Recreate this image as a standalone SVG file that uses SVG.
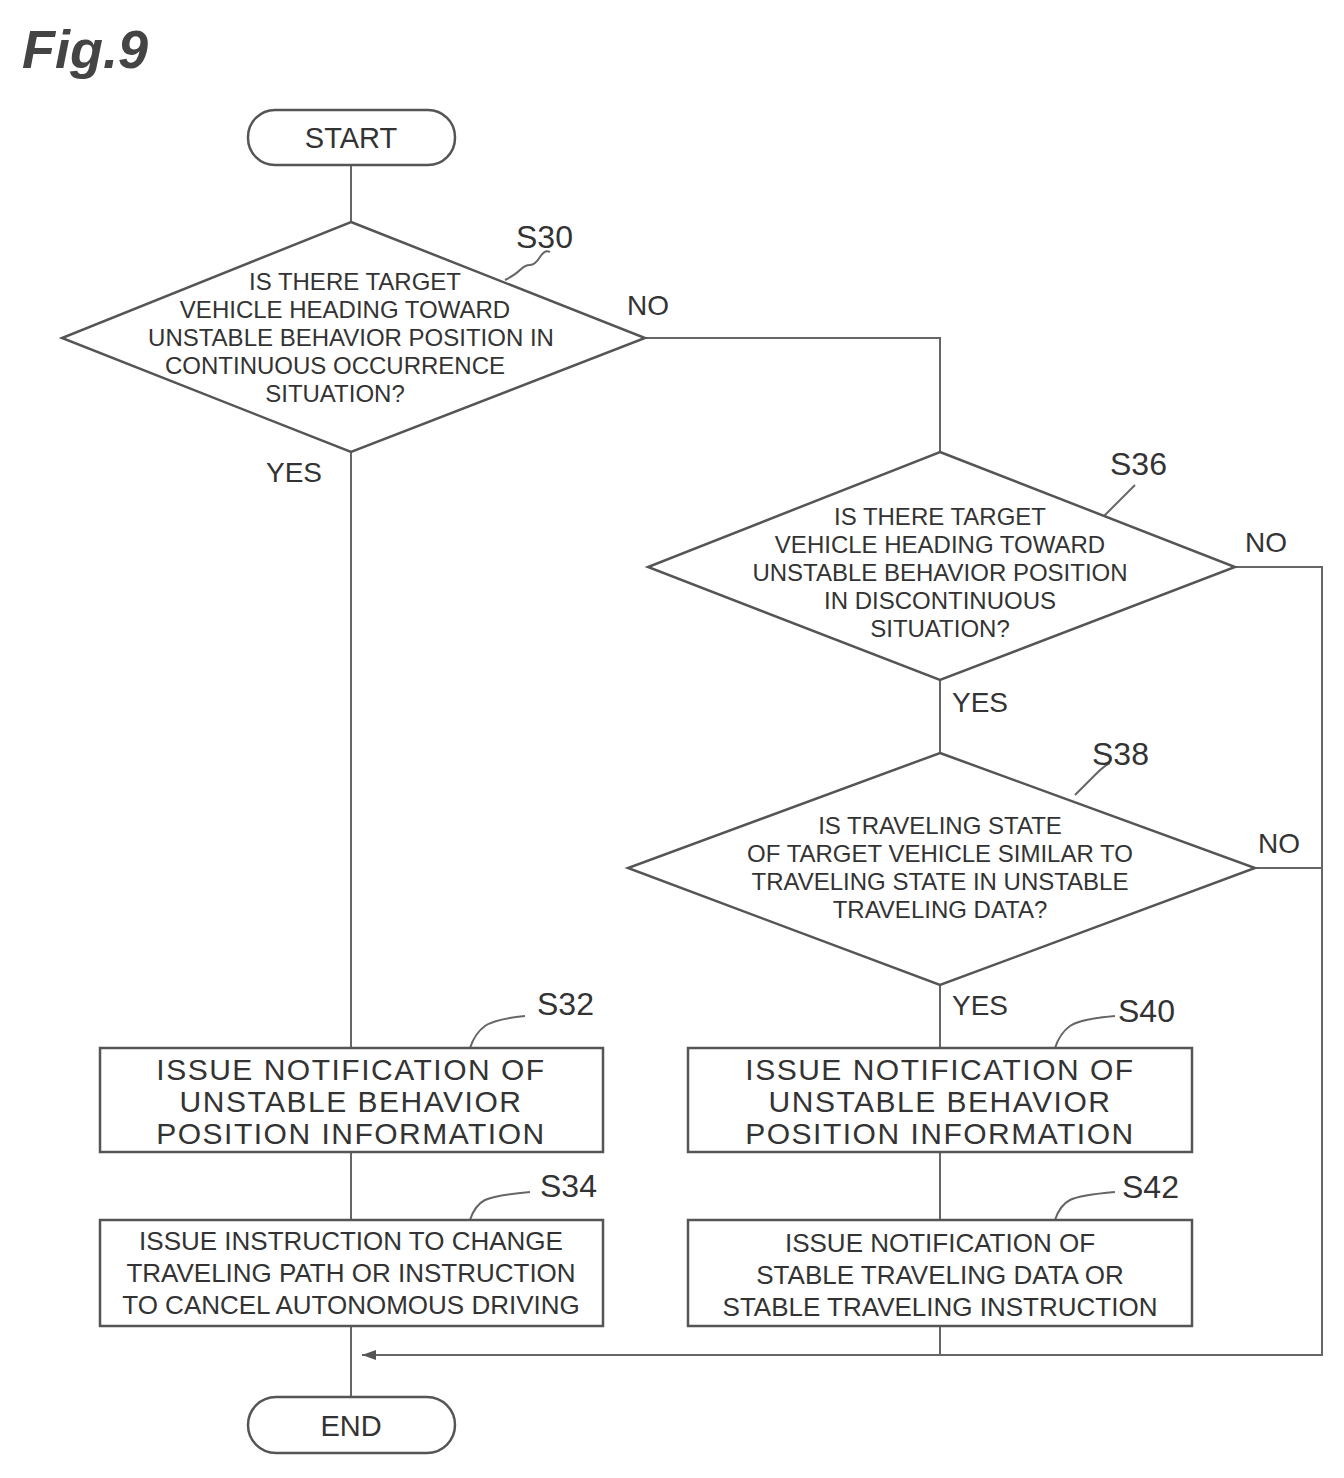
<svg xmlns="http://www.w3.org/2000/svg" width="1344" height="1478" viewBox="0 0 1344 1478">
<style>
text{font-family:"Liberation Sans",Arial,sans-serif;fill:#333}
.s{fill:#fff;stroke:#555;stroke-width:2.5}
.c{fill:none;stroke:#666;stroke-width:2}
.d{font-size:24px;text-anchor:middle}
.b{font-size:30px;text-anchor:middle;letter-spacing:1.5px}
.b2{font-size:26px;text-anchor:middle}
.t{font-size:29px;text-anchor:middle}
.l{font-size:32px}
.y{font-size:28px}
</style>
<defs><marker id="a" markerWidth="14" markerHeight="10" refX="14" refY="5" orient="auto" markerUnits="userSpaceOnUse"><path d="M0,0 L14,5 L0,10 z" fill="#555"/></marker></defs>
<rect width="1344" height="1478" fill="#fff"/>
<text x="22" y="68" style="font-size:54px;font-weight:bold;font-style:italic;fill:#444">Fig.9</text>
<g id="connectors">
<path class="c" d="M351,165V222M351,452V1048M351,1152V1220M351,1326V1397"/>
<path class="c" d="M645,338H940V452M940,680V753M940,985V1048M940,1152V1220M940,1326V1355"/>
<path class="c" d="M1235,567H1322V1355H362" marker-end="url(#a)"/>
<path class="c" d="M1255,868H1322"/>
<path class="c" d="M505,280q10,-5 15,-10t10,-5 10,-8 10,-5"/>
<path class="c" d="M1100,520q10,-10 20,-20t15,-15"/>
<path class="c" d="M1075,795q10,-10 20,-20t15,-12"/>
<path class="c" d="M470,1048q5,-15 15,-22t40,-10"/>
<path class="c" d="M470,1220q5,-15 15,-20t45,-8"/>
<path class="c" d="M1055,1048q5,-15 15,-22t45,-10"/>
<path class="c" d="M1055,1220q5,-15 15,-20t45,-8"/>
<text class="y" x="627" y="315">NO</text>
<text class="y" x="266" y="482">YES</text>
<text class="y" x="1245" y="552">NO</text>
<text class="y" x="952" y="712">YES</text>
<text class="y" x="1258" y="853">NO</text>
<text class="y" x="952" y="1015">YES</text>
</g>
<g id="start"><rect class="s" x="248" y="110" width="207" height="55" rx="27"/><text x="351" y="148" class="t">START</text></g>
<g id="S30"><polygon class="s" points="351,222 645,338 351,452 62,338"/><text class="l" x="516" y="248">S30</text>
<text class="d" x="355" y="290">IS THERE TARGET</text><text class="d" x="345" y="318">VEHICLE HEADING TOWARD</text><text class="d" x="351" y="346">UNSTABLE BEHAVIOR POSITION IN</text><text class="d" x="335" y="374">CONTINUOUS OCCURRENCE</text><text class="d" x="335" y="402">SITUATION?</text></g>
<g id="S36"><polygon class="s" points="940,452 1235,567 940,680 648,567"/><text class="l" x="1110" y="475">S36</text>
<text class="d" x="940" y="525">IS THERE TARGET</text><text class="d" x="940" y="553">VEHICLE HEADING TOWARD</text><text class="d" x="940" y="581">UNSTABLE BEHAVIOR POSITION</text><text class="d" x="940" y="609">IN DISCONTINUOUS</text><text class="d" x="940" y="637">SITUATION?</text></g>
<g id="S38"><polygon class="s" points="940,753 1255,868 940,985 628,868"/><text class="l" x="1092" y="765">S38</text>
<text class="d" x="940" y="834">IS TRAVELING STATE</text><text class="d" x="940" y="862">OF TARGET VEHICLE SIMILAR TO</text><text class="d" x="940" y="890">TRAVELING STATE IN UNSTABLE</text><text class="d" x="940" y="918">TRAVELING DATA?</text></g>
<g id="S32"><rect class="s" x="100" y="1048" width="503" height="104"/><text class="l" x="537" y="1015">S32</text>
<text class="b" x="351" y="1080">ISSUE NOTIFICATION OF</text><text class="b" x="351" y="1112">UNSTABLE BEHAVIOR</text><text class="b" x="351" y="1144">POSITION INFORMATION</text></g>
<g id="S34"><rect class="s" x="100" y="1220" width="503" height="106"/><text class="l" x="540" y="1197">S34</text>
<text class="b2" x="351" y="1250">ISSUE INSTRUCTION TO CHANGE</text><text class="b2" x="351" y="1282">TRAVELING PATH OR INSTRUCTION</text><text class="b2" x="351" y="1314">TO CANCEL AUTONOMOUS DRIVING</text></g>
<g id="S40"><rect class="s" x="688" y="1048" width="504" height="104"/><text class="l" x="1118" y="1022">S40</text>
<text class="b" x="940" y="1080">ISSUE NOTIFICATION OF</text><text class="b" x="940" y="1112">UNSTABLE BEHAVIOR</text><text class="b" x="940" y="1144">POSITION INFORMATION</text></g>
<g id="S42"><rect class="s" x="688" y="1220" width="504" height="106"/><text class="l" x="1122" y="1198">S42</text>
<text class="b2" x="940" y="1252">ISSUE NOTIFICATION OF</text><text class="b2" x="940" y="1284">STABLE TRAVELING DATA OR</text><text class="b2" x="940" y="1316">STABLE TRAVELING INSTRUCTION</text></g>
<g id="end"><rect class="s" x="248" y="1397" width="207" height="56" rx="28"/><text x="351" y="1436" class="t">END</text></g>
</svg>
